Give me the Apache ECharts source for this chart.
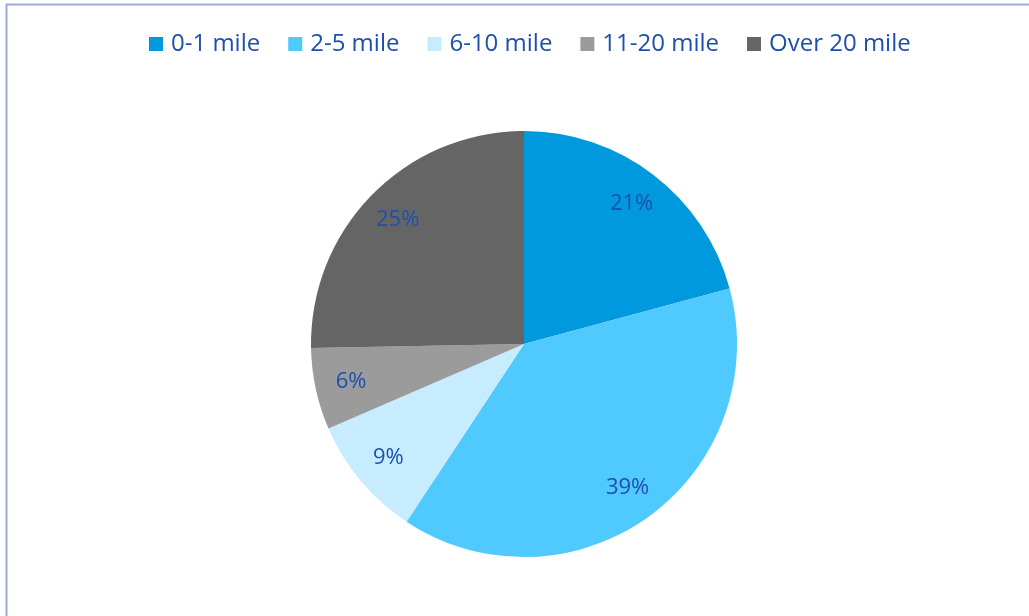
<!DOCTYPE html>
<html>
<head>
<meta charset="utf-8">
<script src="https://cdn.jsdelivr.net/npm/echarts@6/dist/echarts.min.js"></script>
<style>
html,body{margin:0;padding:0;background:#fff;}
#chart{width:1029px;height:616px;}
</style>
</head>
<body>
<div id="chart"></div>
<script>
const categories = ['0-1 mile', '2-5 mile', '6-10 mile', '11-20 mile', 'Over 20 mile'];
const values = [20.8, 38.5, 9.2, 6.2, 25.3];
const colors = ['#0099dd', '#4fc9fe', '#c6ecfe', '#9b9b9b', '#666566'];

const chart = echarts.init(document.getElementById('chart'));
const pieData = categories.map((c, i) => ({ name: c, value: values[i], itemStyle: { color: colors[i] } }));
const labelData = categories.map((c, i) => ({ name: c, value: values[i] }));
const textColor = '#1d4fae';
const font = "'Open Sans', sans-serif";

chart.setOption({
  animation: false,
  graphic: [{
    type: 'rect', silent: true, z: -1,
    shape: { x: 6.5, y: 4.5, width: 1200, height: 800 },
    style: { fill: 'none', stroke: '#9ea9dc', lineWidth: 2 }
  }],
  legend: {
    data: categories,
    top: 27,
    left: 144,
    icon: 'rect',
    itemWidth: 14,
    itemHeight: 14,
    itemGap: 28,
    textStyle: { color: textColor, fontSize: 24, fontFamily: font, padding: [0, 0, 0, 3] }
  },
  series: [
    {
      type: 'pie',
      center: [524, 344],
      radius: [0, 213],
      startAngle: 90,
      clockwise: true,
      data: pieData,
      label: { show: false },
      labelLine: { show: false },
      silent: true
    },
    {
      type: 'pie',
      center: [524, 344],
      radius: [135, 213],
      startAngle: 90,
      clockwise: true,
      data: labelData,
      silent: true,
      itemStyle: { color: 'rgba(0,0,0,0)' },
      label: {
        show: true,
        position: 'inside',
        formatter: p => Math.round(p.value) + '%',
        color: textColor,
        fontSize: 22,
        fontFamily: font
      },
      labelLine: { show: false }
    }
  ]
});
</script>
</body>
</html>
